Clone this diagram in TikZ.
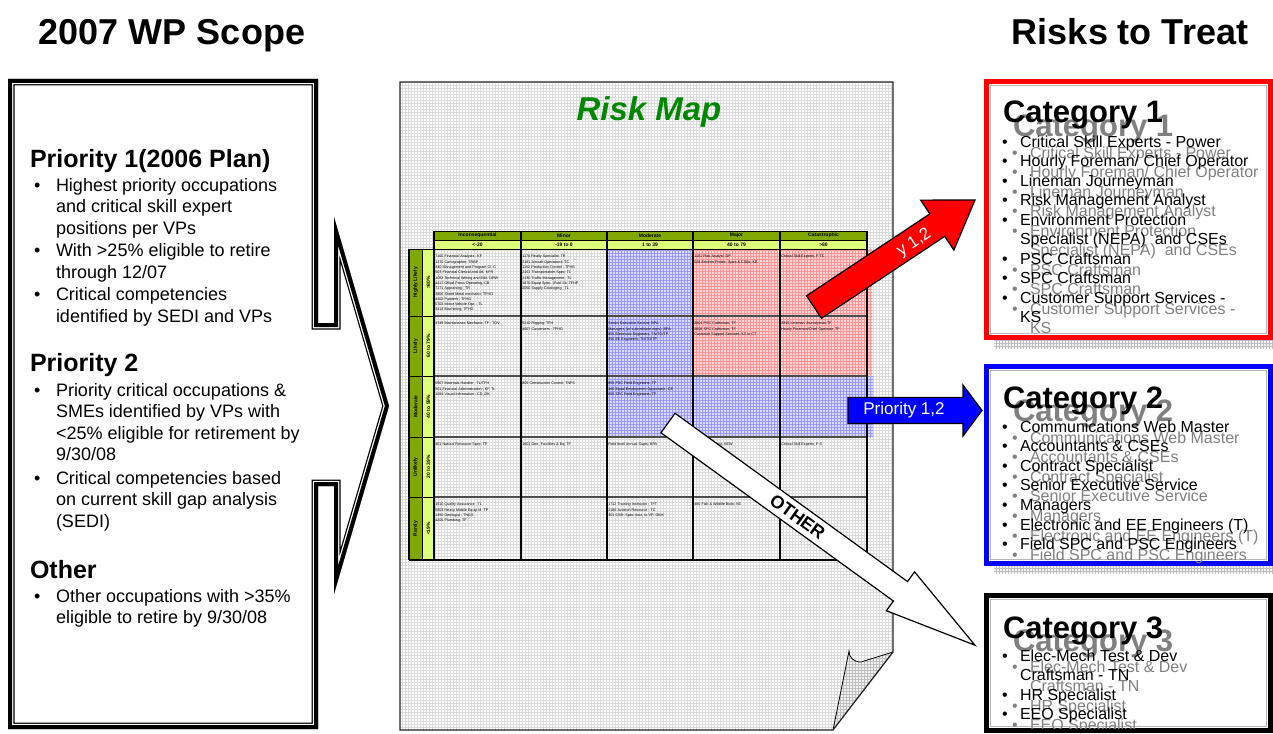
\documentclass[tikz,border=0pt]{standalone}
\usepackage{fontspec}
\setmainfont{Liberation Sans}
\usetikzlibrary{patterns}
\definecolor{hdrdark}{RGB}{128,168,0}
\definecolor{hdrlight}{RGB}{222,255,122}
\definecolor{mapgreen}{RGB}{0,135,0}
\definecolor{cellblue}{RGB}{218,218,255}
\definecolor{cellred}{RGB}{255,214,214}
\definecolor{ghost}{RGB}{128,128,128}
\newcommand\pxfont[2]{\fontsize{#1}{#2}\selectfont}

\begin{document}
\begin{tikzpicture}[x=1pt, y=-1pt,
  every node/.style={inner sep=0pt, outer sep=0pt},
  bigtitle/.style={font=\bfseries\pxfont{36}{40}, anchor=base},
  prio/.style={font=\bfseries\pxfont{25}{30}, anchor=base west},
  ltext/.style={font=\pxfont{18}{21}, anchor=base west},
  cattitle/.style={font=\bfseries\pxfont{31}{36}, anchor=base west},
  ctext/.style={font=\pxfont{16}{19}, anchor=base west},
  cell/.style={font=\pxfont{3.7}{5.3}, anchor=north west, align=left},
  colhead/.style={font=\bfseries\pxfont{5}{6}},
  rowhead/.style={font=\bfseries\pxfont{5}{6}, rotate=90},
  pagearea/.style={fill=white, postaction={pattern=grid, pattern color=gray!28}},
  bluearea/.style={fill=cellblue, postaction={pattern=grid, pattern color=blue!40}},
  redarea/.style={fill=cellred, postaction={pattern=grid, pattern color=red!42}},
  shadearea/.style={fill=gray!10, postaction={pattern=grid, pattern color=gray!50}},
  rowline/.style={gray!60!black, line width=1.3},
  colline/.style={black, line width=1.2},
  blockarrow/.style={draw=black, line width=1.2, line join=miter},
]
\useasboundingbox (0,0) rectangle (1273,733);
\fill[white] (0,0) rectangle (1273,733);

% ---------- headings
\node[bigtitle] (scope) at (172,45) {2007 WP Scope};
\node[bigtitle] (treat) at (1130,45) {Risks to Treat};

% ---------- risk map sheet
\coordinate (pg1) at (400,82);
\coordinate (pg2) at (893,82);
\coordinate (pg3) at (893,652);
\coordinate (pg4) at (833,730);
\coordinate (pg5) at (400,730);
\path[pagearea] (pg1) -- (pg2) -- (pg3) -- (pg4) -- (pg5) -- cycle;

\node[font=\bfseries\itshape\pxfont{33}{36}, text=mapgreen, anchor=base] (maptitle) at (649,121) {Risk Map};

% coloured zones of the matrix
\path[redarea] (693,249) rectangle (872,376);
\path[bluearea] (607,249) rectangle (693,376);
\path[bluearea] (607,376) rectangle (873,437);

% header rows and row header columns
\path[fill=hdrdark] (434,231) rectangle (867,240);
\path[fill=hdrlight] (434,240) rectangle (867,249);
\path[fill=hdrdark] (409,249) rectangle (422,560);
\path[fill=hdrlight] (422,249) rectangle (434,560);

% grid lines of the matrix
\foreach \yr in {316,376,437,497}
  \draw[rowline] (434,\yr) -- (867,\yr);
\foreach \yr in {316,376,437,497}
  \draw[colline, line width=0.9] (409,\yr) -- (434,\yr);
\draw[line width=0.9] (434,231) -- (867,231);
\draw[line width=0.9] (434,240) -- (867,240);
\draw[line width=0.9] (409,249) -- (867,249);
\draw[colline] (409,560) -- (867,560);
\draw[colline] (409,249) -- (409,560);
\draw[colline, line width=0.9] (422,249) -- (422,560);
\foreach \xc in {434,521,607,693,780,867}
  \draw[colline] (\xc,231) -- (\xc,560);

% column headings
\foreach \xc/\a/\b [count=\i] in {477.5/Inconsequential/{<-20}, 564/Minor/{-19 to 0},
    650/Moderate/{1 to 39}, 736.5/Major/{40 to 79}, 823.5/Catastrophic/{>80}} {
  \node[colhead] (ch\i) at (\xc,235.7) {\a};
  \node[colhead] (cv\i) at (\xc,244.7) {\b};
}
% row headings
\foreach \yc/\a/\b [count=\i] in {282.5/{Highly Likely}/{>80\%}, 346/Likely/{60 to 79\%},
    406.5/Moderate/{40 to 59\%}, 467/Unlikely/{20 to 39\%}, 528.5/Rarely/{<19\%}} {
  \node[rowhead] (rl\i) at (415.7,\yc) {\a};
  \node[rowhead] (rp\i) at (428.3,\yc) {\b};
}

% cell contents
\node[cell] (t11) at (435.3,255.3) {7160 Financial Analysts ; KF\\1370 Cartographer; TRBP\\340 Management and Program Cl. C\\503 Financial Clerical and Ad. KFR\\1083 Technical Writing and Edit. DRW\\4417 Offset Press Operating; CB\\7171 Appraising ; TR\\3806 Sheet Metal mechanic; TFHG\\4102 Painters ; TFHG\\5703 Motor Vehicle Opr. ; TL\\3414 Machining; TFHG};
\node[cell] (t12) at (522.3,255.3) {1170 Realty Specialist; TR\\2181 Aircraft Operations; TC\\1152 Production Control ; TFHG\\2101 Transportation Spec; TL\\2130 Traffic Management ; TL\\1670 Equip Spec. (Fuel Sit; TFHP\\2050 Supply Cataloging ; TL};
\node[cell] (t14) at (694.3,255.3) {1101 Risk Analyst; DP\\028 Environ Protec. Spec \& CSEs; KE};
\node[cell] (t15) at (781.3,255.3) {Critical Skill Experts; P TC};

\node[cell] (t21) at (435.3,322.3) {4749 Maintenance Mechanic; TF ; TOV};
\node[cell] (t22) at (522.3,322.3) {5210 Rigging; TFH\\4607 Carpenters ; TFHG};
\node[cell] (t23) at (608.3,322.3) {Senior Executive Service; BPA\\Managers (w/ subordinate mgrs); BPA\\855 Electronic Engineers; TN/TO/TP\\850 EE Engineers; TN/TO/TP};
\node[cell] (t24) at (694.3,322.3) {2604 PSC Craftsman; TF\\2608 SPC Craftsman; TF\\Customer Support Services; KS in CT};
\node[cell] (t25) at (781.3,322.3) {2810 Lineman Journeyman;TF\\Hourly Foreman/Chief Operator; TF};

\node[cell] (t31) at (435.3,382.3) {6907 Materials Handler ; TL/TFH\\501 Financial Administration ; KF, TL\\1084 Visual Information ; CD, DK};
\node[cell] (t32) at (522.3,382.3) {809 Construction Control; TNFS};
\node[cell] (t33) at (608.3,382.3) {855 PSC Field Engineers; TF\\260 Equal Employment Opportunit.; CE\\855 SPC Field Engineers; TF};

\node[cell] (t41) at (435.3,443.3) {401 Natural Resource Spec; TF};
\node[cell] (t42) at (522.3,443.3) {1601 Gen. Facilities \& Eq; TF};
\node[cell] (t43) at (608.3,443.3) {Field level Annual Supts; BPA};
\node[cell] (t44) at (694.3,443.3) {1315 Hydrologist; KEW};
\node[cell] (t45) at (781.3,443.3) {Critical Skill Experts; P S};

\node[cell] (t51) at (435.3,503.3) {1910 Quality Assurance ; TL\\5803 Heavy Mobile Equip M; TP\\1350 Geologist ; TNGS\\4206 Plumbing; TF};
\node[cell] (t53) at (608.3,503.3) {1712 Training Instructor ; TFT\\2180 Aviation Resource ; TC\\301 CSB- Spec Asst. to VP; DKM};
\node[cell] (t54) at (694.3,503.3) {480 Fish \& Wildlife Biolo; KE};

% turned-up corner of the sheet
\path[shadearea] (893,652) -- (861,662) .. controls (853,662) and (849,657) .. (849,651) -- (833,730) -- cycle;
\draw[line width=0.8] (893,652) -- (861,662) .. controls (853,662) and (849,657) .. (849,651) -- (833,730);
\draw[gray!30!black, line width=1.3] (pg5) -- (pg1) -- (pg2) -- (pg3) -- (pg4) -- cycle;

% ---------- block arrows
\begin{scope}[shift={(814,307)}, rotate=33.6]
  \draw[blockarrow, fill=red] (0,-13.5) -- (148,-13.5) -- (148,-30) -- (193.3,0) -- (148,30) -- (148,13.5) -- (0,13.5) -- cycle;
  \node[text=white, font=\pxfont{17}{20}, rotate=33.6] (redtag) at (119,2) {y 1,2};
\end{scope}

\draw[blockarrow, fill=blue] (848,397.5) -- (963,397.5) -- (963,385) -- (982,410.5) -- (963,436) -- (963,423.5) -- (848,423.5) -- cycle;
\node[text=white, font=\pxfont{17}{20}] (bluetag) at (904,410.5) {Priority 1,2};

\begin{scope}[shift={(668,423)}, rotate=-35.9]
  \draw[blockarrow, fill=white] (0,-12) -- (287,-12) -- (287,-24) -- (378.9,0) -- (287,24) -- (287,12) -- (0,12) -- cycle;
  \node[font=\bfseries\pxfont{18}{20}, rotate=-35.9] (othertag) at (160,0) {OTHER};
\end{scope}

% ---------- category boxes
\path[shadearea] (994,89) rectangle (1280,348);
\draw[red, line width=5, fill=white] (986.5,81.5) rectangle (1270.5,337.5);
\draw[gray!55, line width=0.8] (990.5,85.5) rectangle (1266.5,333.5);

\path[shadearea] (994,374) rectangle (1280,573);
\draw[blue, line width=5, fill=white] (986.5,366.5) rectangle (1270.5,563.5);
\draw[gray!55, line width=0.8] (990.5,370.5) rectangle (1266.5,559.5);

\draw[black, line width=5, fill=white] (986.5,595.5) rectangle (1270.5,730.5);
\draw[gray!55, line width=0.8] (990.5,599.5) rectangle (1266.5,726.5);

% category 1
\node[cattitle, text=ghost] (k1g) at (1013,136) {Category 1};
\node[cattitle] (k1) at (1003,123) {Category 1};
\foreach \y/\b/\t [count=\i] in {147/1/{Critical Skill Experts - Power},
    166.5/1/{Hourly Foreman/ Chief Operator}, 186/1/{Lineman Journeyman},
    205.5/1/{Risk Management Analyst}, 225/1/{Environment Protection},
    244.5/0/{Specialist (NEPA)\ \ and CSEs}, 264/1/{PSC Craftsman},
    283.5/1/{SPC Craftsman}, 303/1/{Customer Support Services -}, 322.5/0/{KS}} {
  \ifnum\b=1 \node[ctext, text=ghost] (k1gb\i) at (1012,\y+11) {\textbullet}; \fi
  \node[ctext, text=ghost] (k1gt\i) at (1030,\y+11) {\t};
  \ifnum\b=1 \node[ctext] (k1bb\i) at (1002,\y) {\textbullet}; \fi
  \node[ctext] (k1bt\i) at (1020,\y) {\t};
}

% category 2
\node[cattitle, text=ghost] (k2g) at (1013,421) {Category 2};
\node[cattitle] (k2) at (1003,408) {Category 2};
\foreach \y/\b/\t [count=\i] in {432/1/{Communications Web Master},
    451.6/1/{Accountants \& CSEs}, 471.2/1/{Contract Specialist},
    490.8/1/{Senior Executive Service}, 510.4/1/{Managers},
    530/1/{Electronic and EE Engineers (T)}, 549.6/1/{Field SPC and PSC Engineers}} {
  \ifnum\b=1 \node[ctext, text=ghost] (k2gb\i) at (1012,\y+11) {\textbullet}; \fi
  \node[ctext, text=ghost] (k2gt\i) at (1030,\y+11) {\t};
  \ifnum\b=1 \node[ctext] (k2bb\i) at (1002,\y) {\textbullet}; \fi
  \node[ctext] (k2bt\i) at (1020,\y) {\t};
}

% category 3
\node[cattitle, text=ghost] (k3g) at (1013,651) {Category 3};
\node[cattitle] (k3) at (1003,638) {Category 3};
\foreach \y/\b/\t [count=\i] in {661/1/{Elec-Mech Test \& Dev}, 680.6/0/{Craftsman - TN},
    700.2/1/{HR Specialist}, 719.8/1/{EEO Specialist}} {
  \ifnum\b=1 \node[ctext, text=ghost] (k3gb\i) at (1012,\y+11) {\textbullet}; \fi
  \node[ctext, text=ghost] (k3gt\i) at (1030,\y+11) {\t};
  \ifnum\b=1 \node[ctext] (k3bb\i) at (1002,\y) {\textbullet}; \fi
  \node[ctext] (k3bt\i) at (1020,\y) {\t};
}
% keep the frame's bottom edge above the overflowing text
\draw[black, line width=3.5] (984,731.2) -- (1273,731.2);

% ---------- scope panel with arrow notch
\coordinate (q1) at (8,79);
\coordinate (q2) at (318,79);
\coordinate (q3) at (318,323);
\coordinate (q4) at (334,323);
\coordinate (q5) at (334,217);
\coordinate (q6) at (389,406);
\coordinate (q7) at (334,594);
\coordinate (q8) at (334,486);
\coordinate (q9) at (318,486);
\coordinate (q10) at (318,729);
\coordinate (q11) at (8,729);
\fill[white] (q1) -- (q2) -- (q3) -- (q4) -- (q5) -- (q6) -- (q7) -- (q8) -- (q9) -- (q10) -- (q11) -- cycle;
\begin{scope}
  \clip (q1) -- (q2) -- (q3) -- (q4) -- (q5) -- (q6) -- (q7) -- (q8) -- (q9) -- (q10) -- (q11) -- cycle;
  \draw[line width=13, line join=miter] (q1) -- (q2) -- (q3) -- (q4) -- (q5) -- (q6) -- (q7) -- (q8) -- (q9) -- (q10) -- (q11) -- cycle;
  \draw[white, line width=10.5, line join=miter] (q1) -- (q2) -- (q3) -- (q4) -- (q5) -- (q6) -- (q7) -- (q8) -- (q9) -- (q10) -- (q11) -- cycle;
  \draw[line width=8, line join=miter] (q1) -- (q2) -- (q3) -- (q4) -- (q5) -- (q6) -- (q7) -- (q8) -- (q9) -- (q10) -- (q11) -- cycle;
\end{scope}

\node[prio] (p1) at (30,167) {Priority 1(2006 Plan)};
\foreach \y/\b/\t [count=\i] in {191/1/{Highest priority occupations}, 212.5/0/{and critical skill expert},
    234/0/{positions per VPs}, 256.5/1/{With >25\% eligible to retire}, 278/0/{through 12/07},
    300.5/1/{Critical competencies}, 322/0/{identified by SEDI and VPs}} {
  \ifnum\b=1 \node[ltext] (p1b\i) at (34,\y) {\textbullet}; \fi
  \node[ltext] (p1t\i) at (56,\y) {\t};
}
\node[prio] (p2) at (30,371) {Priority 2};
\foreach \y/\b/\t [count=\i] in {396/1/{Priority critical occupations \&}, 417.5/0/{SMEs identified by VPs with},
    439/0/{<25\% eligible for retirement by}, 460.5/0/{9/30/08},
    484/1/{Critical competencies based}, 505.5/0/{on current skill gap analysis}, 527/0/{(SEDI)}} {
  \ifnum\b=1 \node[ltext] (p2b\i) at (34,\y) {\textbullet}; \fi
  \node[ltext] (p2t\i) at (56,\y) {\t};
}
\node[prio] (p3) at (30,578) {Other};
\foreach \y/\b/\t [count=\i] in {602/1/{Other occupations with >35\%}, 623.5/0/{eligible to retire by 9/30/08}} {
  \ifnum\b=1 \node[ltext] (p3b\i) at (34,\y) {\textbullet}; \fi
  \node[ltext] (p3t\i) at (56,\y) {\t};
}
\end{tikzpicture}
\end{document}
